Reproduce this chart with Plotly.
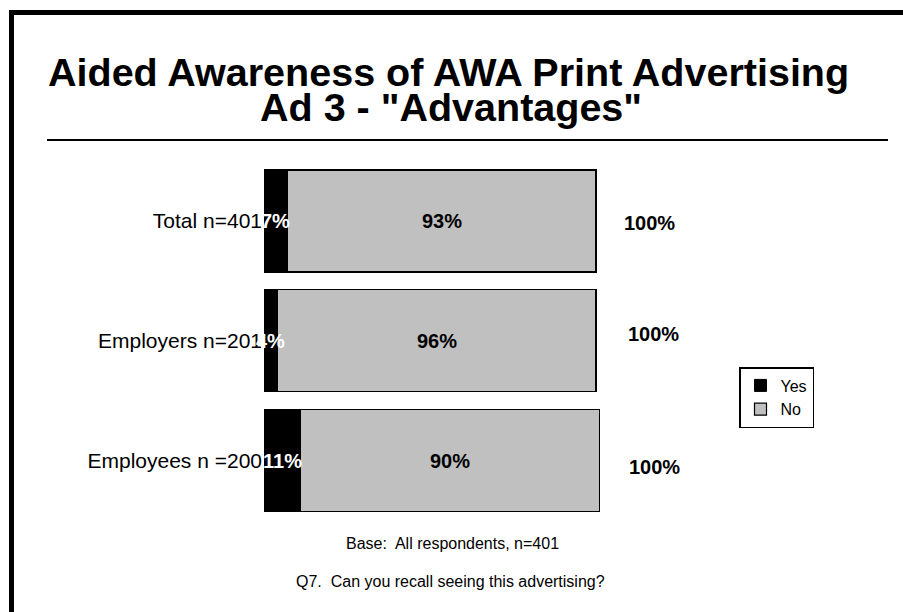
import plotly.graph_objects as go

# Survey results: aided awareness of the "Advantages" print ad
categories = ["Total n=401", "Employers n=201", "Employees n =200"]
yes_pct = [7, 4, 11]
no_pct = [93, 96, 90]
total_labels = ["100%", "100%", "100%"]

base_note = "Base:  All respondents, n=401"
question = "Q7.  Can you recall seeing this advertising?"

FONT = "Liberation Sans, Arial, Helvetica, sans-serif"
W, H = 903, 612

fig = go.Figure()
fig.add_trace(go.Bar(
    name="Yes", y=categories, x=yes_pct, orientation="h",
    marker=dict(color="#000000", line=dict(color="#000000", width=1)),
    hoverinfo="skip",
))
fig.add_trace(go.Bar(
    name="No", y=categories, x=no_pct, orientation="h",
    marker=dict(color="#C0C0C0", line=dict(color="#000000", width=1.2)),
    hoverinfo="skip",
))

annotations = []
# segment value labels
for cat, y_v, n_v in zip(categories, yes_pct, no_pct):
    annotations.append(dict(
        x=y_v / 2, y=cat, xref="x", yref="y", text=f"{y_v}%", showarrow=False,
        font=dict(family=FONT, size=20, color="#FFFFFF", weight="bold"),
        xanchor="center", yanchor="middle",
    ))
    annotations.append(dict(
        x=y_v + n_v / 2, y=cat, xref="x", yref="y", text=f"{n_v}%", showarrow=False,
        font=dict(family=FONT, size=20, color="#000000", weight="bold"),
        xanchor="center", yanchor="middle",
    ))

# totals to the right of each bar
total_xshift = [26, 30, 28]
total_yshift = [-2, 7, -6]
for cat, y_v, n_v, lab, dx, dy in zip(categories, yes_pct, no_pct, total_labels,
                                      total_xshift, total_yshift):
    annotations.append(dict(
        x=y_v + n_v, y=cat, xref="x", yref="y", text=lab, showarrow=False,
        font=dict(family=FONT, size=20, color="#000000", weight="bold"),
        xanchor="left", yanchor="middle", xshift=dx, yshift=dy,
    ))

# heading, two lines
annotations.append(dict(
    x=448 / W, y=1 - 72 / H, xref="paper", yref="paper",
    text="Aided Awareness of AWA Print Advertising", showarrow=False,
    font=dict(family=FONT, size=39.5, color="#000000", weight="bold"),
    xanchor="center", yanchor="middle",
))
annotations.append(dict(
    x=451 / W, y=1 - 107 / H, xref="paper", yref="paper",
    text='Ad 3 - "Advantages"', showarrow=False,
    font=dict(family=FONT, size=39.5, color="#000000", weight="bold"),
    xanchor="center", yanchor="middle",
))

# footnotes
annotations.append(dict(
    x=452 / W, y=1 - 543 / H, xref="paper", yref="paper", text=base_note,
    showarrow=False, font=dict(family=FONT, size=16, color="#000000"),
    xanchor="center", yanchor="middle",
))
annotations.append(dict(
    x=450 / W, y=1 - 581 / H, xref="paper", yref="paper", text=question,
    showarrow=False, font=dict(family=FONT, size=16, color="#000000"),
    xanchor="center", yanchor="middle",
))

shapes = [
    # frame along top and left edges
    dict(type="rect", xref="paper", yref="paper", x0=9 / W, x1=1, y0=1 - 15 / H, y1=1 - 10 / H,
         fillcolor="#000000", line=dict(width=0)),
    dict(type="rect", xref="paper", yref="paper", x0=9 / W, x1=14 / W, y0=0, y1=1 - 10 / H,
         fillcolor="#000000", line=dict(width=0)),
    # rule under the heading
    dict(type="line", xref="paper", yref="paper", x0=47 / W, x1=888 / W,
         y0=1 - 140 / H, y1=1 - 140 / H, line=dict(color="#000000", width=2)),
]

fig.update_layout(
    width=W, height=H,
    margin=dict(l=0, r=0, t=0, b=0),
    paper_bgcolor="#FFFFFF", plot_bgcolor="#FFFFFF",
    barmode="stack", bargap=0.148,
    font=dict(family=FONT, color="#000000"),
    xaxis=dict(domain=[264 / W, 762 / W], range=[0, 150], visible=False, fixedrange=True),
    yaxis=dict(domain=[1 - 520.4 / H, 1 - 161.1 / H], range=[2.5, -0.5],
               categoryorder="array", categoryarray=categories,
               showgrid=False, zeroline=False, showline=False, ticks="",
               ticklabelstandoff=1,
               tickfont=dict(family=FONT, size=21, color="#000000")),
    legend=dict(
        x=739 / W, y=1 - 367 / H, xanchor="left", yanchor="top",
        bordercolor="#000000", borderwidth=1.5, bgcolor="#FFFFFF",
        font=dict(family=FONT, size=16, color="#000000"),
        traceorder="normal", itemwidth=30, tracegroupgap=0,
        entrywidth=90, entrywidthmode="pixels",
    ),
    annotations=annotations,
    shapes=shapes,
    showlegend=True,
)

fig.write_html("out.html")
